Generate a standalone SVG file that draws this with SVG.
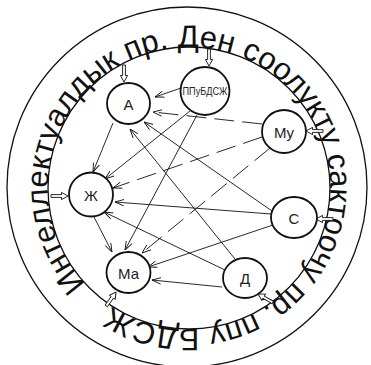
<svg xmlns="http://www.w3.org/2000/svg" xmlns:xlink="http://www.w3.org/1999/xlink" width="371" height="365" viewBox="0 0 371 365">
<style>
.ring{fill:none;stroke:#111;stroke-width:1.3}
.node{fill:#fff;stroke:#111;stroke-width:1.8}
.lbl{font-family:"Liberation Sans",Arial,sans-serif;font-size:15px;fill:#222;text-anchor:middle;dominant-baseline:central}
.small{font-size:10px}
.edge{fill:none;stroke:#111;stroke-width:0.9;marker-end:url(#ah)}
.dash{stroke-dasharray:20 8}
.inp{fill:#fff;stroke:#111;stroke-width:0.9}
.ringtxt{font-family:"Liberation Sans",Arial,sans-serif;font-size:31px;fill:#111}
</style>
<defs>
<marker id="ah" viewBox="0 0 10 8" refX="10" refY="4" markerWidth="9" markerHeight="7.5" markerUnits="userSpaceOnUse" orient="auto">
<path d="M0,0.4 L10,4 L0,7.6" fill="none" stroke="#111" stroke-width="1"/>
</marker>
<path id="hin" d="M-17,-1.4 H-6.5 V-3.6 L0,0 L-6.5,3.6 V1.4 H-17 Z"/>
<path id="tp" d="M85.9,284.2 A141,141 0 1 1 292.1,91.8 A141,141 0 1 1 85.9,284.2"/>
</defs>
<g id="rings">
<circle class="ring" cx="187" cy="187" r="180"/>
<circle class="ring" cx="189" cy="188" r="141"/>
<text class="ringtxt"><textPath xlink:href="#tp" href="#tp" textLength="852" lengthAdjust="spacing">Интеллектуалдык пр. Ден соолукту сактоочу пр. ппу БДСЖ</textPath></text>
</g>
<g id="connectors">
<line class="edge" x1="181" y1="88" x2="155" y2="97"/>
<line class="edge dash" x1="262" y1="124" x2="153" y2="112"/>
<line class="edge" x1="272" y1="211" x2="144" y2="122"/>
<line class="edge" x1="235" y1="259" x2="130" y2="129"/>
<line class="edge" x1="113" y1="123" x2="93" y2="172"/>
<line class="edge" x1="190" y1="111" x2="105" y2="179"/>
<line class="edge dash" x1="262" y1="137" x2="113" y2="188"/>
<line class="edge" x1="271" y1="214" x2="115" y2="202"/>
<line class="edge" x1="225" y1="270" x2="104" y2="212"/>
<line class="edge" x1="94" y1="217" x2="112" y2="252"/>
<line class="edge" x1="197" y1="115" x2="125" y2="250"/>
<line class="edge dash" x1="270" y1="148" x2="142" y2="253"/>
<line class="edge" x1="273" y1="225" x2="148" y2="267"/>
<line class="edge" x1="222" y1="287" x2="152" y2="280"/>
</g>
<g id="inputs">
<use xlink:href="#hin" href="#hin" class="inp" transform="translate(124,82) rotate(90)"/>
<use xlink:href="#hin" href="#hin" class="inp" transform="translate(209,66) rotate(90)"/>
<use xlink:href="#hin" href="#hin" class="inp" transform="translate(306,131) rotate(180)"/>
<use xlink:href="#hin" href="#hin" class="inp" transform="translate(316,219) rotate(180)"/>
<use xlink:href="#hin" href="#hin" class="inp" transform="translate(258,294) rotate(210)"/>
<use xlink:href="#hin" href="#hin" class="inp" transform="translate(116,292) rotate(-55)"/>
<use xlink:href="#hin" href="#hin" class="inp" transform="translate(68,196) rotate(0)"/>
</g>
<g id="node-A"><ellipse class="node" cx="128.5" cy="103.5" rx="21.5" ry="20.5"/><text class="lbl" x="128.5" y="104">А</text></g>
<g id="node-PPu"><ellipse class="node" cx="205" cy="91" rx="24.5" ry="24"/><text class="lbl small" x="205" y="91" textLength="45" lengthAdjust="spacingAndGlyphs">ППуБДСЖ</text></g>
<g id="node-Mu"><ellipse class="node" cx="284" cy="131.5" rx="22" ry="21.5"/><text class="lbl" x="284" y="132">Му</text></g>
<g id="node-Zh"><ellipse class="node" cx="91" cy="194.5" rx="22" ry="22"/><text class="lbl" x="91" y="195">Ж</text></g>
<g id="node-Ma"><ellipse class="node" cx="128.5" cy="272.5" rx="22" ry="20.5"/><text class="lbl" x="128.5" y="273">Ма</text></g>
<g id="node-S"><ellipse class="node" cx="294" cy="217.5" rx="23" ry="20.5"/><text class="lbl" x="294" y="218">С</text></g>
<g id="node-D"><ellipse class="node" cx="245" cy="278" rx="22" ry="20"/><text class="lbl" x="245" y="278.5">Д</text></g>
</svg>
